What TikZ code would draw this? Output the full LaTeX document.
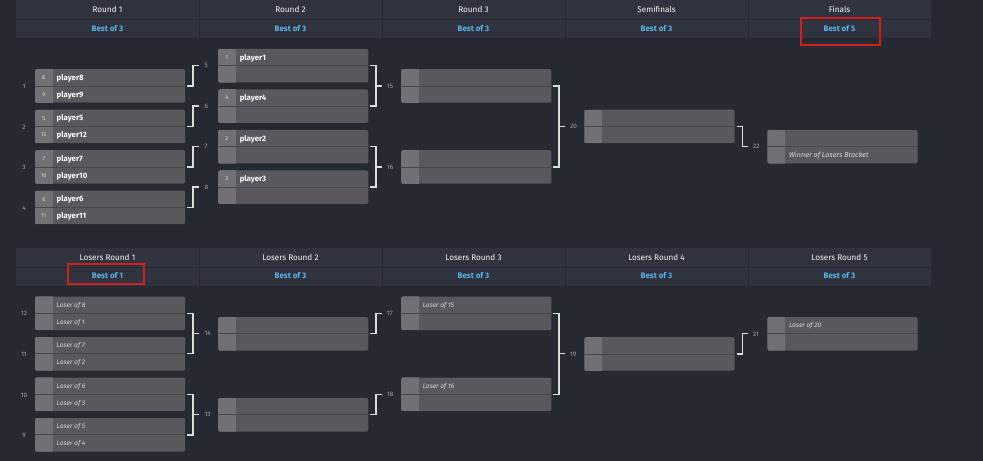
\documentclass[tikz,border=0pt]{standalone}
\usepackage{fontspec}
\setmainfont{Fira Sans}
\definecolor{bg}{HTML}{262932}
\definecolor{hdr}{HTML}{2F333D}
\definecolor{hdrline}{HTML}{272A32}
\definecolor{boxc}{HTML}{58585E}
\definecolor{seedc}{HTML}{707076}
\definecolor{divc}{HTML}{47474C}
\definecolor{brk}{HTML}{DCDCDC}
\definecolor{lblc}{HTML}{A8A8AC}
\definecolor{bestc}{HTML}{5AB4EA}
\definecolor{redc}{HTML}{D01F1F}
\tikzset{
  matchbox/.style={rectangle, rounded corners=2bp, fill=boxc, minimum width=150bp, minimum height=33.5bp, inner sep=0pt, anchor=west},
  seedtxt/.style={font=\fontsize{5.6}{6}\selectfont, text=white!78!gray, inner sep=0pt, text height=4bp, text depth=0pt},
  nametxt/.style={font=\fontsize{7.8}{8}\selectfont\bfseries, text=white, inner sep=0pt, anchor=west, text height=5.6bp, text depth=0pt},
  losstxt/.style={font=\fontsize{6.6}{8}\selectfont\itshape, text=white!72!gray, inner sep=0pt, anchor=west, text height=4.8bp, text depth=0pt},
  wintxt/.style={font=\fontsize{7.2}{8}\selectfont\itshape, text=white!72!gray, inner sep=0pt, anchor=west, text height=5.2bp, text depth=0pt},
  bracket/.style={draw=brk, line width=1.4bp},
  numlbl/.style={font=\fontsize{6.4}{7}\selectfont, text=lblc, inner sep=0pt, text height=4.6bp, text depth=0pt},
  roundtxt/.style={font=\fontsize{8.2}{9}\selectfont, text=white!94!gray, inner sep=0pt, text height=5.9bp, text depth=0pt},
  besttxt/.style={font=\fontsize{8}{9}\selectfont\bfseries, text=bestc, inner sep=0pt, text height=5.8bp, text depth=0pt},
  redbox/.style={draw=redc, line width=1.8bp},
}
% match box: name, left x, centre y
\newcommand{\bmatch}[3]{%
  \node[matchbox] (#1) at (#2,#3) {};
  \begin{scope}
    \clip[rounded corners=2bp] (#1.north west) rectangle (#1.south east);
    \fill[seedc] (#1.north west) rectangle ([xshift=17.5bp]#1.south west);
  \end{scope}
  \draw[divc, line width=0.9bp] (#1.west) -- (#1.east);
}
% top / bottom slot with seed: match, seed, text, style
\newcommand{\slottop}[4]{%
  \node[seedtxt] (#1-sa) at ([xshift=8.75bp,yshift=8.4bp]#1.west) {#2};
  \node[#4] (#1-ta) at ([xshift=21.5bp,yshift=8.4bp]#1.west) {#3};}
\newcommand{\slotbot}[4]{%
  \node[seedtxt] (#1-sb) at ([xshift=8.75bp,yshift=-8.4bp]#1.west) {#2};
  \node[#4] (#1-tb) at ([xshift=21.5bp,yshift=-8.4bp]#1.west) {#3};}
\newcommand{\txttop}[3]{\node[#3] (#1-ta) at ([xshift=21.5bp,yshift=8.4bp]#1.west) {#2};}
\newcommand{\txtbot}[3]{\node[#3] (#1-tb) at ([xshift=21.5bp,yshift=-8.4bp]#1.west) {#2};}
\begin{document}
\begin{tikzpicture}[x=1bp,y=-1bp]
\useasboundingbox (0,0) rectangle (983,461);
\fill[bg] (0,0) rectangle (983,461);
% ---------- headers
\fill[hdr] (16,0) rectangle (931,37.7);
\fill[hdr] (16,248) rectangle (931,285.7);
\draw[hdrline, line width=0.9bp] (16,19) -- (931,19);
\draw[hdrline, line width=0.9bp] (16,267) -- (931,267);
\foreach \xd in {199,382,565,748} {
  \draw[hdrline, line width=1bp] (\xd,0) -- (\xd,37.7);
  \draw[hdrline, line width=1bp] (\xd,248) -- (\xd,285.7);
}
\foreach \i/\t/\b in {1/Round 1/Best of 3, 2/Round 2/Best of 3, 3/Round 3/Best of 3, 4/Semifinals/Best of 3, 5/Finals/Best of 5} {
  \node[roundtxt] (h\i) at ({107.5+183*(\i-1)},10) {\t};
  \node[besttxt] (b\i) at ({107.5+183*(\i-1)},29) {\b};
}
\foreach \i/\t/\b in {1/Losers Round 1/Best of 1, 2/Losers Round 2/Best of 3, 3/Losers Round 3/Best of 3, 4/Losers Round 4/Best of 3, 5/Losers Round 5/Best of 3} {
  \node[roundtxt] (lh\i) at ({107.5+183*(\i-1)},257.5) {\t};
  \node[besttxt] (lb\i) at ({107.5+183*(\i-1)},276) {\b};
}
\draw[redbox] (801,18.3) rectangle (879.6,45);
\draw[redbox] (67.7,264.3) rectangle (144.3,284.3);
% ---------- winners bracket
\bmatch{m1}{35}{86}
\bmatch{m2}{35}{126.5}
\bmatch{m3}{35}{167}
\bmatch{m4}{35}{207.5}
\slottop{m1}{8}{player8}{nametxt}\slotbot{m1}{9}{player9}{nametxt}
\slottop{m2}{5}{player5}{nametxt}\slotbot{m2}{12}{player12}{nametxt}
\slottop{m3}{7}{player7}{nametxt}\slotbot{m3}{10}{player10}{nametxt}
\slottop{m4}{6}{player6}{nametxt}\slotbot{m4}{11}{player11}{nametxt}
\bmatch{m5}{218.1}{65.7}
\bmatch{m6}{218.1}{106.2}
\bmatch{m7}{218.1}{146.7}
\bmatch{m8}{218.1}{187.2}
\slottop{m5}{1}{player1}{nametxt}
\slottop{m6}{4}{player4}{nametxt}
\slottop{m7}{2}{player2}{nametxt}
\slottop{m8}{3}{player3}{nametxt}
\bmatch{m15}{401.2}{86}
\bmatch{m16}{401.2}{167}
\bmatch{m20}{584.3}{126.5}
\bmatch{m22}{767.4}{146.7}
\txtbot{m22}{Winner of Losers Bracket}{wintxt}
% match numbers, left
\node[numlbl] (n1) at (24,86.5) {1};
\node[numlbl] (n2) at (24,127) {2};
\node[numlbl] (n3) at (24,167.5) {3};
\node[numlbl] (n4) at (24,208) {4};
% labels
\node[numlbl, anchor=west] (l5) at (204.5,65.7) {5};
\node[numlbl, anchor=west] (l6) at (204.5,106.2) {6};
\node[numlbl, anchor=west] (l7) at (204.5,146.7) {7};
\node[numlbl, anchor=west] (l8) at (204.5,187.2) {8};
\node[numlbl, anchor=west] (l15) at (387,86) {15};
\node[numlbl, anchor=west] (l16) at (387,167) {16};
\node[numlbl, anchor=west] (l20) at (570,126.5) {20};
\node[numlbl, anchor=west] (l22) at (753,146.7) {22};
% connectors
\foreach \a/\b in {m1/l5, m2/l6, m3/l7, m4/l8, m20/l22}
  \draw[bracket, shorten <=1.8bp, shorten >=5.5bp] (\a.east) -- ++(7.5,0) |- (\b.west);
\foreach \a/\b/\c in {m5/m6/l15, m7/m8/l16, m15/m16/l20} {
  \draw[bracket, shorten <=1.8bp, shorten >=1.8bp] (\a.east) -- ++(7.5,0) |- (\b.east);
  \draw[bracket, shorten <=5.5bp] (\c.west) -- ++(-11.8,0);
}
% ---------- losers bracket
\bmatch{m12}{35}{313.3}
\bmatch{m11}{35}{353.8}
\bmatch{m10}{35}{394.3}
\bmatch{m9}{35}{434.8}
\txttop{m12}{Loser of 8}{losstxt}\txtbot{m12}{Loser of 1}{losstxt}
\txttop{m11}{Loser of 7}{losstxt}\txtbot{m11}{Loser of 2}{losstxt}
\txttop{m10}{Loser of 6}{losstxt}\txtbot{m10}{Loser of 3}{losstxt}
\txttop{m9}{Loser of 5}{losstxt}\txtbot{m9}{Loser of 4}{losstxt}
\bmatch{m14}{218.1}{333.8}
\bmatch{m13}{218.1}{414.8}
\bmatch{m17}{401.2}{313.3}
\bmatch{m18}{401.2}{394.3}
\txttop{m17}{Loser of 15}{losstxt}
\txttop{m18}{Loser of 16}{losstxt}
\bmatch{m19}{584.3}{354}
\bmatch{m21}{767.4}{333.8}
\txttop{m21}{Loser of 20}{losstxt}
\node[numlbl] (n12) at (24,313.3) {12};
\node[numlbl] (n11) at (24,354.5) {11};
\node[numlbl] (n10) at (24,394.8) {10};
\node[numlbl] (n9) at (24,435.5) {9};
\node[numlbl, anchor=west] (l14) at (204.5,333.6) {14};
\node[numlbl, anchor=west] (l13) at (204.5,414.6) {13};
\node[numlbl, anchor=west] (l17) at (387,313.3) {17};
\node[numlbl, anchor=west] (l18) at (387,394.3) {18};
\node[numlbl, anchor=west] (l19) at (570,353.8) {19};
\node[numlbl, anchor=west] (l21) at (753,333.8) {21};
\foreach \a/\b in {m14/l17, m13/l18, m19/l21}
  \draw[bracket, shorten <=1.8bp, shorten >=5.5bp] (\a.east) -- ++(7.5,0) |- (\b.west);
\foreach \a/\b/\c in {m12/m11/l14, m10/m9/l13, m17/m18/l19} {
  \draw[bracket, shorten <=1.8bp, shorten >=1.8bp] (\a.east) -- ++(7.5,0) |- (\b.east);
  \draw[bracket, shorten <=5.5bp] (\c.west) -- ++(-11.8,0);
}
\end{tikzpicture}
\end{document}
